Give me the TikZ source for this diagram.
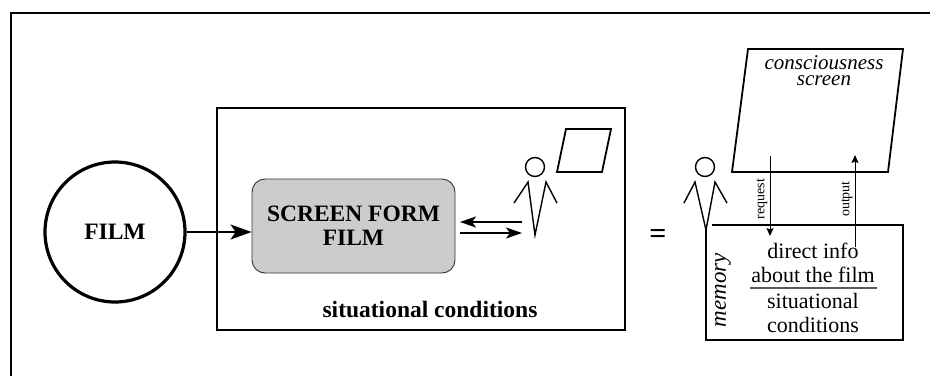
\documentclass[tikz,border=0pt]{standalone}
\usepackage{fontspec}
\setmainfont{Liberation Serif}
\usetikzlibrary{arrows.meta}
\begin{document}
\begin{tikzpicture}[x=1pt,y=-1pt,
  bigtip/.style={-{Stealth[length=21pt,width=15pt,inset=5pt]}},
  tip/.style={-{Stealth[length=16pt,width=11pt,inset=4pt]}},
  smalltip/.style={-{Stealth[length=8pt,width=7pt,inset=1.5pt]}},
  bold24/.style={font=\fontsize{23.5}{24}\selectfont\bfseries},
  person/.style={line width=1.4pt, line join=miter}]
\useasboundingbox (0,0) rectangle (930,376);
% outer frame (open to right and bottom)
\draw[line width=2pt] (11,376) -- (11,13) -- (930,13);
% FILM circle
\node[circle, draw, line width=3.2pt, minimum size=140pt, inner sep=0pt, bold24] (film) at (115,232) {FILM};
% middle box
\node[draw, line width=1.5pt, minimum width=408pt, minimum height=222pt, inner sep=0pt] (sitbox) at (421,219) {};
\node[bold24] (sitlbl) at (430,309) {situational conditions};
% screen form film
\node[draw=black!80, fill=black!20, rounded corners=13pt, line width=0.9pt, minimum width=203pt, minimum height=94pt, align=center, inner sep=0pt, bold24] (sff) at (353.5,226) {SCREEN FORM\\FILM};
\draw[bigtip, line width=1.5pt] (film.east) -- (film.east -| sff.west);
% middle person
\node[circle, draw, line width=1.4pt, minimum size=19pt, inner sep=0pt] (head1) at (535,167) {};
\coordinate (p1a) at (514,203);
\coordinate (p1b) at (528,182);
\coordinate (p1c) at (535,235);
\coordinate (p1d) at (546,182);
\coordinate (p1e) at (557,203);
\draw[person] (p1a) -- (p1b) -- (p1c) -- (p1d) -- (p1e);
% small screen
\draw[line width=1.8pt] (566,129) -- (611,129) -- (602,172) -- (557,172) -- cycle;
% double arrows
\coordinate (a1s) at (522,222);
\coordinate (a1e) at (460,222);
\coordinate (a2s) at (460,233);
\coordinate (a2e) at (522,233);
\draw[tip, line width=1.5pt] (a1s) -- (a1e);
\draw[tip, line width=1.5pt] (a2s) -- (a2e);
% equals
\node[font=\fontsize{30}{30}\selectfont\bfseries] (eq) at (658,236) {=};
% right person
\node[circle, draw, line width=1.4pt, minimum size=19pt, inner sep=0pt] (head2) at (705,167) {};
\coordinate (p2a) at (684,203);
\coordinate (p2b) at (695,182);
\coordinate (p2c) at (706,230);
\coordinate (p2d) at (715,182);
\coordinate (p2e) at (727,203);
\draw[person] (p2a) -- (p2b) -- (p2c) -- (p2d) -- (p2e);
% memory box
\coordinate (m1) at (712,225);
\coordinate (m2) at (903,225);
\coordinate (m3) at (903,340);
\coordinate (m4) at (706,340);
\draw[line width=1.6pt] (m1) -- (m2) -- (m3) -- (m4) -- (p2c);
\node[rotate=90, font=\fontsize{23}{23}\selectfont\itshape] (mem) at (723,290) {memory};
\node[align=center, font=\fontsize{22}{24.5}\selectfont, inner sep=0pt] (info) at (813,263) {direct info\\about the film};
\node[align=center, font=\fontsize{22}{24.5}\selectfont, inner sep=0pt] (sitc) at (813,313) {situational\\conditions};
\draw[line width=1.2pt, black!65] (750,288) -- (877,288);
% consciousness screen
\draw[line width=1.8pt] (748,49) -- (903,49) -- (888,172) -- (732,172) -- cycle;
\node[align=center, font=\fontsize{21}{16}\selectfont\itshape, inner sep=0pt] (cs) at (824,71) {consciousness\\screen};
% request / output
\coordinate (rq1) at (770,156);
\coordinate (rq2) at (770,236);
\coordinate (op1) at (855,247);
\coordinate (op2) at (855,155);
\draw[smalltip, line width=1pt] (rq1) -- (rq2);
\draw[smalltip, line width=1pt] (op1) -- (op2);
\node[rotate=90, font=\fontsize{14}{14}\selectfont] (rql) at (762,199) {request};
\node[rotate=90, font=\fontsize{14}{14}\selectfont] (opl) at (847,199) {output};
\end{tikzpicture}
\end{document}
